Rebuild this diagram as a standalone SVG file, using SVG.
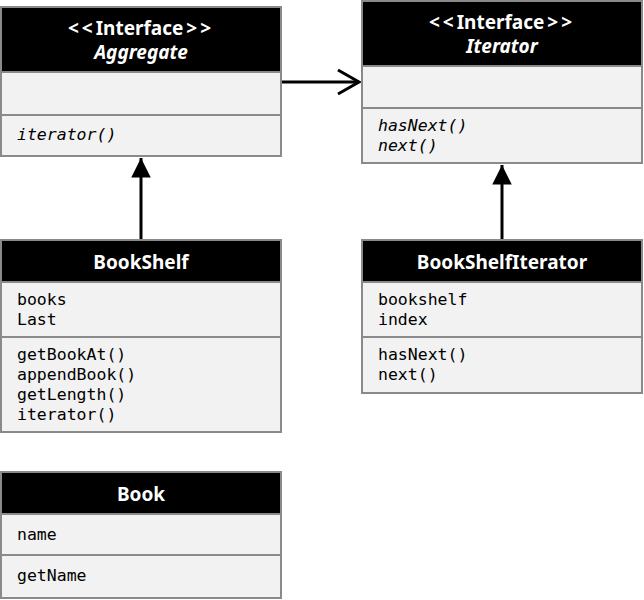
<svg xmlns="http://www.w3.org/2000/svg" width="644" height="600" viewBox="0 0 644 600">
<defs>
<style>
.body{fill:#f2f2f2;stroke:#8a8a8a;stroke-width:2}
.head{fill:#000;stroke:#8a8a8a;stroke-width:2}
.div{stroke:#8a8a8a;stroke-width:2}
.title{font-family:"Noto Sans","Open Sans",sans-serif;font-weight:bold;font-size:19px;fill:#fff;text-anchor:middle}
.ital{font-style:italic}
.mono{font-family:"DejaVu Sans Mono","Liberation Mono",monospace;font-size:16.5px;fill:#000}
.conn{stroke:#000;stroke-width:3;fill:none}
.br{letter-spacing:3px}
</style>
<marker id="tri" viewBox="0 0 10 10" refX="10" refY="5" markerWidth="6.5" markerHeight="6.5" orient="auto" markerUnits="strokeWidth">
<path d="M0,0 L10,5 L0,10 Z" fill="#000"/>
</marker>
</defs>
<rect width="644" height="600" fill="#fff"/>
<g id="connectors">
<line class="conn" x1="141" y1="240" x2="141" y2="158" marker-end="url(#tri)"/>
<line class="conn" x1="502" y1="240" x2="502" y2="165" marker-end="url(#tri)"/>
<line class="conn" x1="281" y1="82" x2="359" y2="82"/>
<polyline class="conn" points="338,70 359,82 338,94"/>
</g>
<g id="Aggregate">
<rect class="body" x="1" y="7" width="280" height="149"/>
<rect class="head" x="1" y="7" width="280" height="65"/>
<line class="div" x1="1" y1="115" x2="281" y2="115"/>
<text class="title" x="141" y="35"><tspan class="br">&lt;&lt;</tspan>Interface<tspan class="br" dx="3">&gt;&gt;</tspan></text>
<text class="title ital" x="141" y="59">Aggregate</text>
<text class="mono ital" x="17" y="140">iterator()</text>
</g>
<g id="Iterator">
<rect class="body" x="362" y="1" width="280" height="162"/>
<rect class="head" x="362" y="1" width="280" height="65"/>
<line class="div" x1="362" y1="108" x2="642" y2="108"/>
<text class="title" x="502" y="29"><tspan class="br">&lt;&lt;</tspan>Interface<tspan class="br" dx="3">&gt;&gt;</tspan></text>
<text class="title ital" x="502" y="53">Iterator</text>
<text class="mono ital" x="378" y="131">hasNext()</text>
<text class="mono ital" x="378" y="151">next()</text>
</g>
<g id="BookShelf">
<rect class="body" x="1" y="240" width="280" height="192"/>
<rect class="head" x="1" y="240" width="280" height="42"/>
<line class="div" x1="1" y1="337" x2="281" y2="337"/>
<text class="title" x="141" y="269">BookShelf</text>
<text class="mono" x="17" y="305">books</text>
<text class="mono" x="17" y="325">Last</text>
<text class="mono" x="17" y="360">getBookAt()</text>
<text class="mono" x="17" y="380">appendBook()</text>
<text class="mono" x="17" y="400">getLength()</text>
<text class="mono" x="17" y="420">iterator()</text>
</g>
<g id="BookShelfIterator">
<rect class="body" x="362" y="240" width="280" height="153"/>
<rect class="head" x="362" y="240" width="280" height="42"/>
<line class="div" x1="362" y1="337" x2="642" y2="337"/>
<text class="title" x="502" y="269">BookShelfIterator</text>
<text class="mono" x="378" y="305">bookshelf</text>
<text class="mono" x="378" y="325">index</text>
<text class="mono" x="378" y="360">hasNext()</text>
<text class="mono" x="378" y="380">next()</text>
</g>
<g id="Book">
<rect class="body" x="1" y="472" width="280" height="126"/>
<rect class="head" x="1" y="472" width="280" height="42"/>
<line class="div" x1="1" y1="555" x2="281" y2="555"/>
<text class="title" x="141" y="501">Book</text>
<text class="mono" x="17" y="540">name</text>
<text class="mono" x="17" y="581">getName</text>
</g>
</svg>
